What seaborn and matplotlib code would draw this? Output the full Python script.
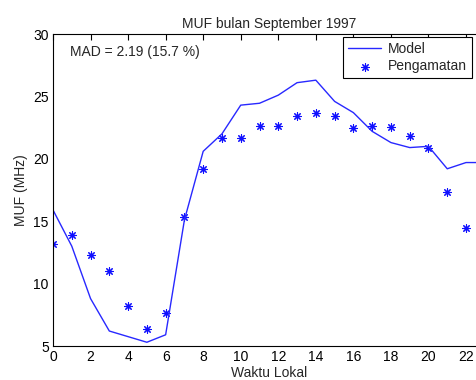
import matplotlib
matplotlib.use('Agg')
import matplotlib.pyplot as plt
import seaborn as sns
import pandas as pd

#  Data
jam_model = list(range(24))
muf_model = [15.9, 13.0, 8.8, 6.2, 5.75, 5.3, 5.9, 15.1, 20.6, 22.0,
             24.3, 24.45, 25.1, 26.1, 26.3, 24.6, 23.7, 22.2, 21.3, 20.9,
             21.0, 19.2, 19.7, 19.7]

jam_obs = list(range(23))
muf_obs = [13.2, 13.9, 12.3, 11.0, 8.2, 6.35, 7.65, 15.3, 19.15, 21.7,
           21.7, 22.65, 22.6, 23.45, 23.65, 23.45, 22.45, 22.6, 22.55, 21.8,
           20.85, 17.35, 14.45]

model_df = pd.DataFrame({'jam': jam_model, 'muf': muf_model})
obs_df = pd.DataFrame({'jam': jam_obs, 'muf': muf_obs})

sns.set_style('white')
plt.rcParams['font.family'] = ['Liberation Sans', 'DejaVu Sans']
plt.rcParams['xtick.direction'] = 'in'
plt.rcParams['ytick.direction'] = 'in'

fig = plt.figure(figsize=(4.77, 3.80), dpi=100)
#  Axes run past the right edge, as in the cropped original
ax = fig.add_axes([53/477, 34/380, 431.8/477, 312/380])

sns.lineplot(data=model_df, x='jam', y='muf', ax=ax, color='#2828ff',
             linewidth=1.0, label='Model')
sns.scatterplot(data=obs_df, x='jam', y='muf', ax=ax, color='#1010ff',
                marker=(8, 2, 0), s=30, linewidth=0.8, edgecolor='#1010ff',
                label='Pengamatan')

ax.set_xlim(0, 23)
ax.set_ylim(5, 30)
ax.set_xticks(range(0, 23, 2))
ax.set_yticks(range(5, 31, 5))
ax.tick_params(top=True, right=True, length=4, width=0.8, labelsize=10,
               colors='black', pad=3)
for sp in ax.spines.values():
    sp.set_color('black')
    sp.set_linewidth(0.8)

ax.set_title('MUF bulan September 1997', fontsize=10, pad=4)
ax.set_xlabel('Waktu Lokal', fontsize=10, labelpad=1)
ax.set_ylabel('MUF (MHz)', fontsize=10, labelpad=4)

ax.text(0.9, 28.55, 'MAD = 2.19 (15.7 %)', fontsize=10, va='center', ha='left')

leg = ax.legend(loc='upper left', bbox_to_anchor=(343/477, 1 - 37/380),
                bbox_transform=fig.transFigure, fontsize=10, frameon=True,
                fancybox=False, framealpha=1, edgecolor='black',
                borderpad=0.35, labelspacing=0.25, handlelength=2.4,
                handletextpad=0.5, borderaxespad=0)
leg.get_frame().set_linewidth(0.8)

fig.savefig('out.png', dpi=100)
